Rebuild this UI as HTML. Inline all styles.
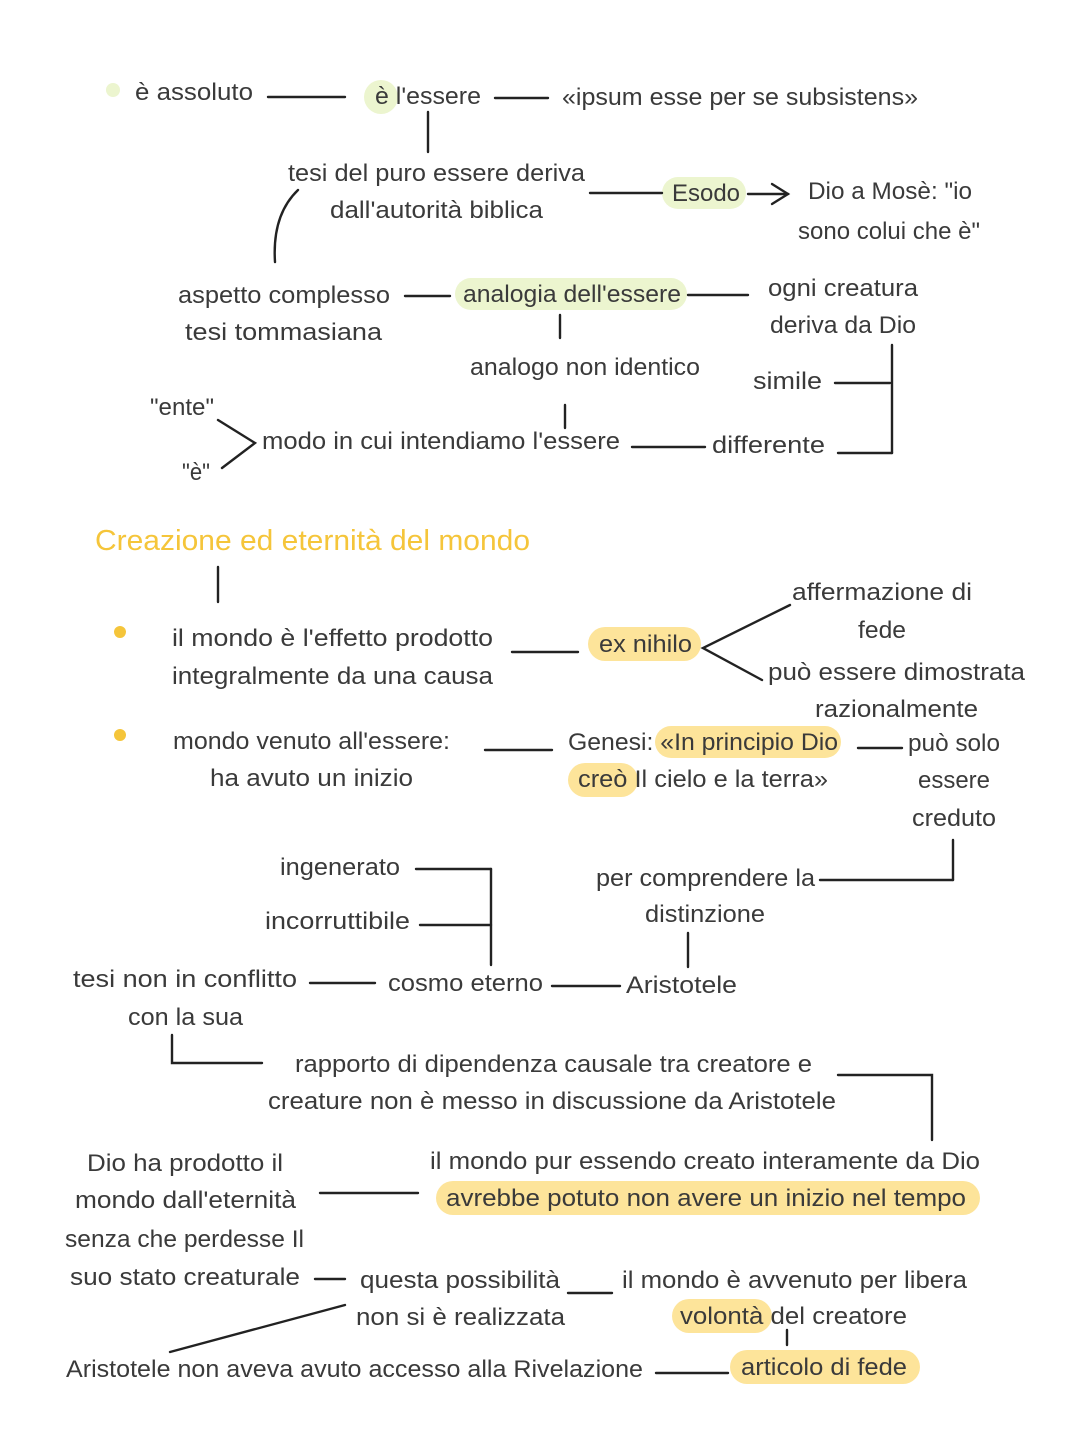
<!DOCTYPE html>
<html><head><meta charset="utf-8"><style>
html,body{margin:0;padding:0;background:#fff;}
svg{display:block;}
text{font-family:"Liberation Sans",sans-serif;font-size:24px;fill:#3a3a3a;}
.t{fill:#f5c53a;font-size:29px;}
line,path,polyline{stroke:#222;stroke-width:2.4;fill:none;stroke-linecap:round;}
</style></head><body>
<svg width="1080" height="1439" viewBox="0 0 1080 1439" xmlns="http://www.w3.org/2000/svg">
<!-- highlights -->
<g fill="#ecf5cf" stroke="none">
<circle cx="381" cy="97" r="17"/>
<rect x="662" y="177" width="84" height="32" rx="16"/>
<rect x="455" y="278" width="232" height="32" rx="16"/>
</g>
<g fill="#fde49a" stroke="none">
<rect x="588" y="627" width="113" height="34" rx="17"/>
<rect x="655" y="726" width="186" height="32" rx="16"/>
<rect x="568" y="763" width="70" height="34" rx="17"/>
<rect x="436" y="1181" width="544" height="34" rx="17"/>
<rect x="672" y="1299" width="100" height="34" rx="17"/>
<rect x="730" y="1350" width="190" height="34" rx="17"/>
</g>
<circle cx="113" cy="90" r="7" fill="#ecf5cf"/>
<circle cx="120" cy="632" r="6" fill="#f5c53a"/>
<circle cx="120" cy="735" r="6" fill="#f5c53a"/>

<!-- lines -->
<line x1="268" y1="97" x2="345" y2="97"/>
<line x1="495" y1="98" x2="548" y2="98"/>
<line x1="428" y1="112" x2="428" y2="152"/>
<path d="M298 190 Q272 215 275 262"/>
<line x1="590" y1="193" x2="662" y2="193"/>
<line x1="748" y1="194" x2="788" y2="194"/><polyline points="772,184 788,194 772,204"/>
<line x1="405" y1="296" x2="450" y2="296"/>
<line x1="688" y1="295" x2="748" y2="295"/>
<line x1="560" y1="315" x2="560" y2="338"/>
<line x1="835" y1="383" x2="890" y2="383"/>
<line x1="892" y1="345" x2="892" y2="453"/>
<line x1="838" y1="453" x2="892" y2="453"/>
<polyline points="218,420 255,443 222,468"/>
<line x1="565" y1="405" x2="565" y2="428"/>
<line x1="632" y1="447" x2="705" y2="447"/>
<line x1="218" y1="567" x2="218" y2="602"/>
<line x1="512" y1="652" x2="578" y2="652"/>
<polyline points="790,605 703,648 762,680"/>
<line x1="485" y1="750" x2="552" y2="750"/>
<line x1="858" y1="748" x2="902" y2="748"/>
<line x1="953" y1="840" x2="953" y2="880"/>
<line x1="820" y1="880" x2="953" y2="880"/>
<line x1="688" y1="933" x2="688" y2="967"/>
<line x1="416" y1="869" x2="491" y2="869"/>
<line x1="420" y1="925" x2="491" y2="925"/>
<line x1="491" y1="869" x2="491" y2="965"/>
<line x1="552" y1="986" x2="620" y2="986"/>
<line x1="310" y1="983" x2="375" y2="983"/>
<polyline points="172,1035 172,1063 262,1063"/>
<polyline points="838,1075 932,1075 932,1140"/>
<line x1="320" y1="1193" x2="418" y2="1193"/>
<line x1="315" y1="1279" x2="345" y2="1279"/>
<line x1="568" y1="1293" x2="612" y2="1293"/>
<line x1="345" y1="1305" x2="170" y2="1352"/>
<line x1="787" y1="1330" x2="787" y2="1345"/>
<line x1="656" y1="1373" x2="728" y2="1373"/>

<!-- text -->
<g lengthAdjust="spacingAndGlyphs">
<text x="135" y="100" textLength="118" lengthAdjust="spacingAndGlyphs">è assoluto</text>
<text x="375" y="104" textLength="106" lengthAdjust="spacingAndGlyphs">è l'essere</text>
<text x="562" y="105" textLength="356" lengthAdjust="spacingAndGlyphs">«ipsum esse per se subsistens»</text>
<text x="288" y="181" textLength="297" lengthAdjust="spacingAndGlyphs">tesi del puro essere deriva</text>
<text x="330" y="218" textLength="213" lengthAdjust="spacingAndGlyphs">dall'autorità biblica</text>
<text x="672" y="201" textLength="68" lengthAdjust="spacingAndGlyphs">Esodo</text>
<text x="808" y="199" textLength="164" lengthAdjust="spacingAndGlyphs">Dio a Mosè: "io</text>
<text x="798" y="239" textLength="182" lengthAdjust="spacingAndGlyphs">sono colui che è"</text>
<text x="178" y="303" textLength="212" lengthAdjust="spacingAndGlyphs">aspetto complesso</text>
<text x="185" y="340" textLength="197" lengthAdjust="spacingAndGlyphs">tesi tommasiana</text>
<text x="463" y="302" textLength="218" lengthAdjust="spacingAndGlyphs">analogia dell'essere</text>
<text x="768" y="296" textLength="150" lengthAdjust="spacingAndGlyphs">ogni creatura</text>
<text x="770" y="333" textLength="146" lengthAdjust="spacingAndGlyphs">deriva da Dio</text>
<text x="470" y="375" textLength="230" lengthAdjust="spacingAndGlyphs">analogo non identico</text>
<text x="753" y="389" textLength="69" lengthAdjust="spacingAndGlyphs">simile</text>
<text x="150" y="415" textLength="64" lengthAdjust="spacingAndGlyphs">"ente"</text>
<text x="182" y="480" textLength="28" lengthAdjust="spacingAndGlyphs">"è"</text>
<text x="262" y="449" textLength="358" lengthAdjust="spacingAndGlyphs">modo in cui intendiamo l'essere</text>
<text x="712" y="453" textLength="113" lengthAdjust="spacingAndGlyphs">differente</text>
<text class="t" x="95" y="550" textLength="435" lengthAdjust="spacingAndGlyphs">Creazione ed eternità del mondo</text>
<text x="172" y="646" textLength="321" lengthAdjust="spacingAndGlyphs">il mondo è l'effetto prodotto</text>
<text x="172" y="684" textLength="321" lengthAdjust="spacingAndGlyphs">integralmente da una causa</text>
<text x="599" y="652" textLength="93" lengthAdjust="spacingAndGlyphs">ex nihilo</text>
<text x="792" y="600" textLength="180" lengthAdjust="spacingAndGlyphs">affermazione di</text>
<text x="858" y="638" textLength="48" lengthAdjust="spacingAndGlyphs">fede</text>
<text x="768" y="680" textLength="257" lengthAdjust="spacingAndGlyphs">può essere dimostrata</text>
<text x="815" y="717" textLength="163" lengthAdjust="spacingAndGlyphs">razionalmente</text>
<text x="173" y="749" textLength="277" lengthAdjust="spacingAndGlyphs">mondo venuto all'essere:</text>
<text x="210" y="786" textLength="203" lengthAdjust="spacingAndGlyphs">ha avuto un inizio</text>
<text x="568" y="750" textLength="270" lengthAdjust="spacingAndGlyphs">Genesi: «In principio Dio</text>
<text x="578" y="787" textLength="250" lengthAdjust="spacingAndGlyphs">creò Il cielo e la terra»</text>
<text x="908" y="751" textLength="92" lengthAdjust="spacingAndGlyphs">può solo</text>
<text x="918" y="788" textLength="72" lengthAdjust="spacingAndGlyphs">essere</text>
<text x="912" y="826" textLength="84" lengthAdjust="spacingAndGlyphs">creduto</text>
<text x="596" y="886" textLength="219" lengthAdjust="spacingAndGlyphs">per comprendere la</text>
<text x="645" y="922" textLength="120" lengthAdjust="spacingAndGlyphs">distinzione</text>
<text x="626" y="993" textLength="111" lengthAdjust="spacingAndGlyphs">Aristotele</text>
<text x="280" y="875" textLength="120" lengthAdjust="spacingAndGlyphs">ingenerato</text>
<text x="265" y="929" textLength="145" lengthAdjust="spacingAndGlyphs">incorruttibile</text>
<text x="388" y="991" textLength="155" lengthAdjust="spacingAndGlyphs">cosmo eterno</text>
<text x="73" y="987" textLength="224" lengthAdjust="spacingAndGlyphs">tesi non in conflitto</text>
<text x="128" y="1025" textLength="115" lengthAdjust="spacingAndGlyphs">con la sua</text>
<text x="295" y="1072" textLength="517" lengthAdjust="spacingAndGlyphs">rapporto di dipendenza causale tra creatore e</text>
<text x="268" y="1109" textLength="568" lengthAdjust="spacingAndGlyphs">creature non è messo in discussione da Aristotele</text>
<text x="87" y="1171" textLength="196" lengthAdjust="spacingAndGlyphs">Dio ha prodotto il</text>
<text x="75" y="1208" textLength="221" lengthAdjust="spacingAndGlyphs">mondo dall'eternità</text>
<text x="65" y="1247" textLength="239" lengthAdjust="spacingAndGlyphs">senza che perdesse Il</text>
<text x="70" y="1285" textLength="230" lengthAdjust="spacingAndGlyphs">suo stato creaturale</text>
<text x="430" y="1169" textLength="550" lengthAdjust="spacingAndGlyphs">il mondo pur essendo creato interamente da Dio</text>
<text x="446" y="1206" textLength="520" lengthAdjust="spacingAndGlyphs">avrebbe potuto non avere un inizio nel tempo</text>
<text x="360" y="1288" textLength="200" lengthAdjust="spacingAndGlyphs">questa possibilità</text>
<text x="356" y="1325" textLength="209" lengthAdjust="spacingAndGlyphs">non si è realizzata</text>
<text x="622" y="1288" textLength="345" lengthAdjust="spacingAndGlyphs">il mondo è avvenuto per libera</text>
<text x="680" y="1324" textLength="227" lengthAdjust="spacingAndGlyphs">volontà del creatore</text>
<text x="66" y="1377" textLength="577" lengthAdjust="spacingAndGlyphs">Aristotele non aveva avuto accesso alla Rivelazione</text>
<text x="741" y="1375" textLength="166" lengthAdjust="spacingAndGlyphs">articolo di fede</text>
</g>
</svg>
</body></html>
